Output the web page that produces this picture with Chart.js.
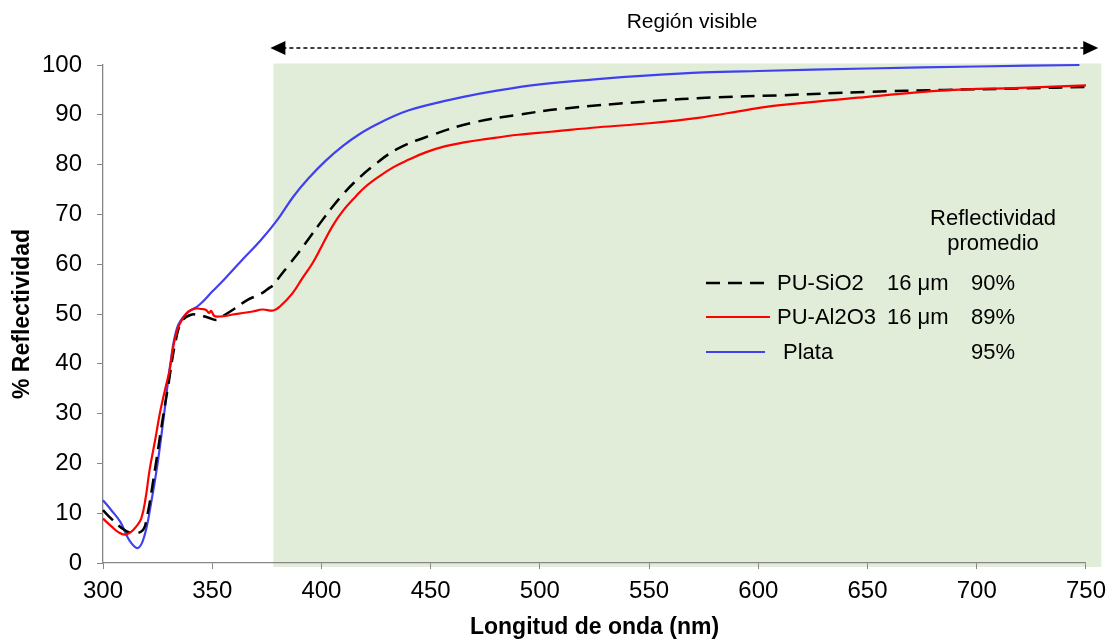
<!DOCTYPE html>
<html>
<head>
<meta charset="utf-8">
<script src="https://cdn.jsdelivr.net/npm/chart.js@4.4.1/dist/chart.umd.min.js"></script>
<style>
  body { margin: 0; background: #fff; }
  canvas { display: block; }
</style>
</head>
<body>
<canvas id="chart" width="1114" height="641"></canvas>
<script>
// wavelength (nm) and % reflectivity
const nmSiO2 = [300, 304, 308, 313, 318, 320, 323, 327, 330, 333, 336, 340, 344, 348, 352, 355, 360, 366, 372, 376, 378, 380, 385, 390, 395, 400, 405, 410, 415, 423, 435, 451, 469, 490, 510, 550, 580, 609, 650, 685, 720, 750];
const reflSiO2 = [10.6, 8.8, 7.2, 6.0, 6.5, 9, 16.6, 28, 36, 44, 48.5, 49.8, 49.8, 49.3, 48.8, 49.6, 51, 52.8, 54, 55.2, 55.8, 57, 59.8, 62.6, 65.6, 68.6, 71.5, 74.1, 76.4, 79.5, 83.2, 86, 88.4, 90, 91.2, 92.7, 93.5, 93.9, 94.6, 95, 95.3, 95.6];

const nmAl2O3 = [300, 304, 307, 310, 313, 315, 317.5, 319.5, 321.3, 324, 326, 328.5, 330.5, 332, 334, 336.5, 339, 342.6, 345, 347.2, 348.5, 349.5, 351, 353.3, 356, 359.4, 364, 368.5, 373, 378, 381, 386.8, 391, 395.9, 400, 405, 410, 415.7, 420, 426.3, 433, 440, 448, 456.8, 466, 475, 490, 505, 526.8, 550, 572.5, 595, 609, 650, 685, 720, 750];
const reflAl2O3 = [8.9, 7.3, 6.2, 5.7, 6.3, 7.2, 8.9, 13, 18.6, 25, 30, 35, 38.7, 43, 46.8, 49.1, 50.5, 51.1, 51, 50.8, 50.2, 50.6, 49.6, 49.5, 49.6, 49.9, 50.2, 50.5, 50.9, 50.7, 51.5, 54.2, 57, 60.2, 63.5, 67.6, 70.8, 73.6, 75.5, 77.6, 79.5, 81, 82.5, 83.7, 84.5, 85.1, 86, 86.6, 87.5, 88.3, 89.4, 91, 91.9, 93.6, 94.9, 95.4, 95.9];

const nmPlata = [300, 304, 308, 312, 316, 319, 322, 325, 328, 331, 334, 338, 344, 350, 356, 364, 372, 380, 387, 394, 402, 410, 417, 425, 433, 440, 448, 465, 481, 500, 525, 550, 575, 600, 650, 700, 747];
const reflPlata = [12.6, 10.5, 8.2, 4.6, 3.0, 5.5, 12, 20, 30, 40.5, 47.3, 50, 51.8, 54.5, 57.2, 61, 64.7, 69, 73.5, 77.2, 80.8, 83.8, 86, 88, 89.7, 90.9, 91.9, 93.6, 94.9, 96.1, 97.1, 97.9, 98.5, 98.8, 99.3, 99.7, 100];

const xTicks = [300, 350, 400, 450, 500, 550, 600, 650, 700, 750];
const yTicks = [0, 10, 20, 30, 40, 50, 60, 70, 80, 90, 100];

const visibleFrom = 378;
const visibleTo = 757;

const legendRows = [
  { label: 'PU-SiO2', thick: '16 μm', avg: '90%' },
  { label: 'PU-Al2O3', thick: '16 μm', avg: '89%' },
  { label: 'Plata', thick: '', avg: '95%' }
];

const FONT = '"Liberation Sans", Arial, sans-serif';

function toPoints(xs, ys) {
  return xs.map((x, i) => ({ x: x, y: ys[i] }));
}

const decorations = {
  id: 'decorations',
  beforeDraw(chart) {
    const ctx = chart.ctx;
    const x = chart.scales.x, y = chart.scales.y;
    // green band of the visible region
    const x0 = x.getPixelForValue(visibleFrom);
    const x1 = x.getPixelForValue(visibleTo);
    const y0 = y.getPixelForValue(100.3);
    const y1 = y.getPixelForValue(-0.8);
    ctx.save();
    ctx.fillStyle = '#e1edd8';
    ctx.fillRect(x0, y0, x1 - x0, y1 - y0);
    ctx.restore();
  },
  afterDraw(chart) {
    const ctx = chart.ctx;
    const x = chart.scales.x;
    const left = x.getPixelForValue(visibleFrom) - 3;
    const right = x.getPixelForValue(visibleTo) - 3;
    const ay = 48;
    ctx.save();
    // dashed double arrow
    ctx.strokeStyle = '#000';
    ctx.lineWidth = 1.3;
    ctx.setLineDash([4, 3]);
    ctx.beginPath();
    ctx.moveTo(left + 12, ay);
    ctx.lineTo(right - 12, ay);
    ctx.stroke();
    ctx.setLineDash([]);
    ctx.fillStyle = '#000';
    ctx.beginPath();
    ctx.moveTo(left, ay);
    ctx.lineTo(left + 15, ay - 7);
    ctx.lineTo(left + 15, ay + 7);
    ctx.closePath();
    ctx.fill();
    ctx.beginPath();
    ctx.moveTo(right, ay);
    ctx.lineTo(right - 15, ay - 7);
    ctx.lineTo(right - 15, ay + 7);
    ctx.closePath();
    ctx.fill();

    ctx.font = '21px ' + FONT;
    ctx.fillStyle = '#000';
    ctx.textAlign = 'center';
    ctx.textBaseline = 'middle';
    ctx.fillText('Región visible', 692, 22);

    // legend
    ctx.font = '22px ' + FONT;
    ctx.fillText('Reflectividad', 993, 219);
    ctx.fillText('promedio', 993, 244);
    const rowsY = [283, 317, 352];
    const styles = chart.data.datasets;
    const legendOrder = [1, 0, 2];
    ctx.textAlign = 'left';
    legendRows.forEach((row, i) => {
      const ds = styles[legendOrder[i]];
      const ry = rowsY[i];
      ctx.strokeStyle = ds.borderColor;
      ctx.lineWidth = ds.borderWidth;
      ctx.setLineDash(ds.borderDash || []);
      ctx.beginPath();
      ctx.moveTo(706, ry);
      ctx.lineTo(i === 2 ? 765 : 770, ry);
      ctx.stroke();
      ctx.setLineDash([]);
      ctx.fillStyle = '#000';
      ctx.fillText(row.label, i === 2 ? 783 : 777, ry + 1);
      if (row.thick) ctx.fillText(row.thick, 887, ry + 1);
      ctx.fillText(row.avg, 971, ry + 1);
    });
    ctx.restore();
  }
};

const ctx = document.getElementById('chart').getContext('2d');
new Chart(ctx, {
  type: 'line',
  data: {
    datasets: [
      {
        label: 'PU-Al2O3',
        data: toPoints(nmAl2O3, reflAl2O3),
        borderColor: '#ff0000',
        borderWidth: 2.2,
        tension: 0.4,
        pointRadius: 0,
        fill: false
      },
      {
        label: 'PU-SiO2',
        data: toPoints(nmSiO2, reflSiO2),
        borderColor: '#000000',
        borderWidth: 2.5,
        borderDash: [14, 8],
        tension: 0.4,
        pointRadius: 0,
        fill: false
      },
      {
        label: 'Plata',
        data: toPoints(nmPlata, reflPlata),
        borderColor: '#4040f0',
        borderWidth: 2.2,
        tension: 0.4,
        pointRadius: 0,
        fill: false
      }
    ]
  },
  options: {
    responsive: false,
    animation: false,
    clip: false,
    layout: { padding: { top: 65, right: 25, left: 0, bottom: 0 } },
    plugins: {
      legend: { display: false },
      tooltip: { enabled: false }
    },
    scales: {
      x: {
        type: 'linear',
        min: 300,
        max: 750,
        afterBuildTicks(scale) { scale.ticks = xTicks.map(v => ({ value: v })); },
        afterFit(scale) { scale.height = 78; },
        grid: { drawOnChartArea: false, drawTicks: true, tickLength: 6, color: '#868686' },
        border: { color: '#868686', width: 1.3 },
        ticks: { color: '#000', font: { family: FONT, size: 24 }, padding: 8, maxRotation: 0 },
        title: {
          display: true,
          text: 'Longitud de onda (nm)',
          color: '#000',
          font: { family: FONT, size: 23, weight: 'bold' },
          padding: { top: 0, bottom: 0 }
        }
      },
      y: {
        min: 0,
        max: 100,
        afterBuildTicks(scale) { scale.ticks = yTicks.map(v => ({ value: v })); },
        afterFit(scale) { scale.width = 103; },
        grid: { drawOnChartArea: false, drawTicks: true, tickLength: 6, color: '#868686' },
        border: { color: '#868686', width: 1.3 },
        ticks: { color: '#000', font: { family: FONT, size: 24 }, padding: 15 },
        title: {
          display: true,
          text: '% Reflectividad',
          color: '#000',
          font: { family: FONT, size: 23, weight: 'bold' },
          padding: { top: 9, bottom: 0 }
        }
      }
    }
  },
  plugins: [decorations]
});
</script>
</body>
</html>
